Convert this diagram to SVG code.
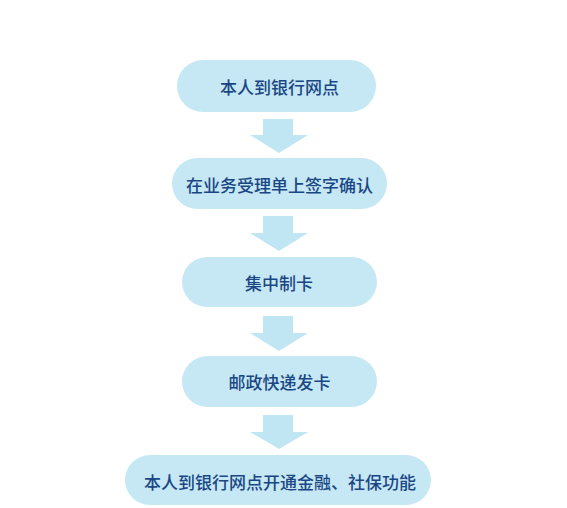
<svg xmlns="http://www.w3.org/2000/svg" width="567" height="508" viewBox="0 0 567 508">
<style>
.node rect{fill:#c6e8f4}
.node text{font-family:"Noto Sans CJK SC","Noto Sans",sans-serif;font-size:17px;font-weight:500;fill:#1a4784;text-anchor:middle;dominant-baseline:central}
.arrow{fill:#c0e6f3}
</style>
<rect width="567" height="508" fill="#ffffff"/>
<g id="connectors">
<path class="arrow" d="M263,119 H293 V135 H308 L279,153 L250,135 H263 Z"/>
<path class="arrow" d="M263,216 H293 V233 H308 L279,251 L250,233 H263 Z"/>
<path class="arrow" d="M263,316 H293 V333 H308 L279,351 L250,333 H263 Z"/>
<path class="arrow" d="M263,415 H293 V432 H308 L279,449 L250,432 H263 Z"/>
</g>
<g id="node1" class="node"><rect x="177" y="60" width="199" height="52" rx="26"/><text x="279.5" y="86">本人到银行网点</text></g>
<g id="node2" class="node"><rect x="172" y="158" width="215" height="51" rx="25.5"/><text x="279.5" y="184">在业务受理单上签字确认</text></g>
<g id="node3" class="node"><rect x="182" y="257" width="195" height="50" rx="25"/><text x="279" y="282">集中制卡</text></g>
<g id="node4" class="node"><rect x="182" y="356" width="195" height="51" rx="25.5"/><text x="279.5" y="381">邮政快递发卡</text></g>
<g id="node5" class="node"><rect x="125" y="455" width="306" height="50" rx="25"/><text x="280" y="481">本人到银行网点开通金融、社保功能</text></g>
</svg>
